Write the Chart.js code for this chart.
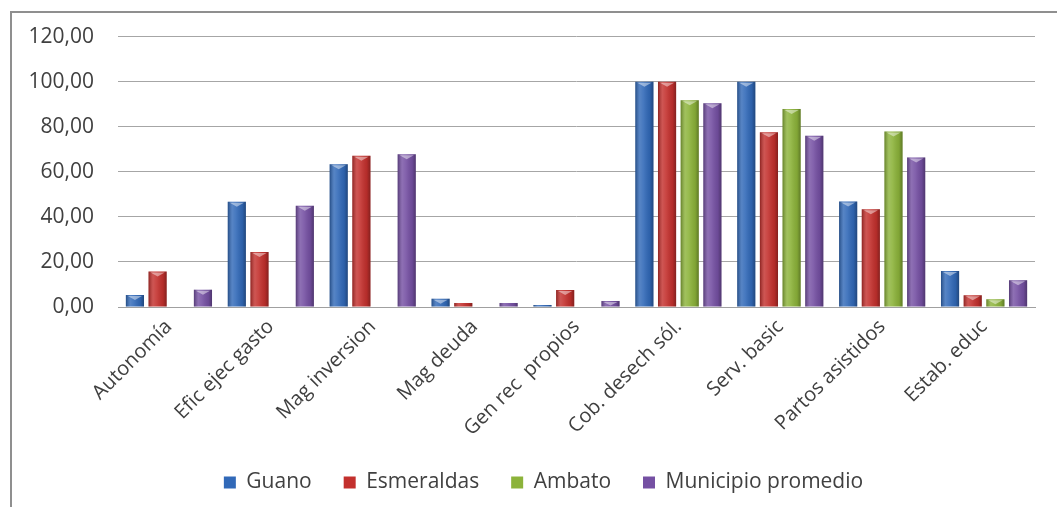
<!DOCTYPE html>
<html>
<head>
<meta charset="utf-8">
<script src="https://cdn.jsdelivr.net/npm/chart.js@4.4.1/dist/chart.umd.min.js"></script>
<style>
  html, body { margin: 0; padding: 0; background: #ffffff; }
  #wrap { width: 1057px; height: 507px; position: relative; }
</style>
</head>
<body>
<div id="wrap"><canvas id="c" width="1057" height="507"></canvas></div>
<script>
// Indicadores municipales por cantón
const categories = ['Autonomía', 'Efic ejec gasto', 'Mag inversion', 'Mag deuda', 'Gen rec  propios',
                    'Cob. desech sól.', 'Serv. basic', 'Partos asistidos', 'Estab. educ'];
const guano      = [5.3, 46.7, 63.4, 3.7, 0.9, 100.0, 100.0, 46.8, 16.0];
const esmeraldas = [15.7, 24.4, 67.1, 1.8, 7.5, 100.0, 77.5, 43.4, 5.2];
const ambato     = [null, null, null, null, null, 91.8, 87.9, 77.9, 3.4];
const municipio  = [7.7, 44.9, 67.8, 1.8, 2.7, 90.4, 76.0, 66.4, 11.9];
const seriesNames = ['Guano', 'Esmeraldas', 'Ambato', 'Municipio promedio'];
const yTicks = [0, 20, 40, 60, 80, 100, 120];

const colors = ['#3169b8', '#c3302d', '#8cb33a', '#7550a3'];
const FONT = '"Open Sans", "DejaVu Sans", sans-serif';

// Panel background and frame
const framePlugin = {
  id: 'frame',
  beforeDraw(chart) {
    const ctx = chart.ctx;
    ctx.save();
    ctx.fillStyle = '#ffffff';
    ctx.fillRect(0, 0, chart.width, chart.height);
    ctx.strokeStyle = '#8f8f8f';
    ctx.lineWidth = 2;
    ctx.strokeRect(11, 12, chart.width + 20, chart.height + 20);
    ctx.restore();
  }
};

// Nudge the legend row a little to the right
const legendShift = {
  id: 'legendShift',
  afterLayout(chart) {
    if (chart.legend) {
      chart.legend.left += 21;
      chart.legend.right += 21;
    }
  }
};

// Cylinder-style shading on top of each bar
const shadePlugin = {
  id: 'shade',
  afterDatasetsDraw(chart) {
    const ctx = chart.ctx;
    ctx.save();
    chart.data.datasets.forEach((ds, di) => {
      const meta = chart.getDatasetMeta(di);
      if (meta.hidden) return;
      meta.data.forEach((el, i) => {
        if (ds.data[i] === null || ds.data[i] === undefined) return;
        const p = el.getProps(['x', 'y', 'base', 'width'], true);
        const left = p.x - p.width / 2;
        const right = p.x + p.width / 2;
        const h = p.base - p.y;
        const g = ctx.createLinearGradient(left, 0, right, 0);
        g.addColorStop(0, 'rgba(0,0,0,0.28)');
        g.addColorStop(0.25, 'rgba(255,255,255,0.18)');
        g.addColorStop(0.45, 'rgba(255,255,255,0.10)');
        g.addColorStop(0.8, 'rgba(0,0,0,0.08)');
        g.addColorStop(1, 'rgba(0,0,0,0.32)');
        ctx.fillStyle = g;
        ctx.fillRect(left, p.y, p.width, h);
        if (h > 4) {
          ctx.fillStyle = 'rgba(255,255,255,0.45)';
          ctx.beginPath();
          ctx.moveTo(left + 2, p.y + 1);
          ctx.lineTo(p.x, p.y + Math.min(5, h - 1));
          ctx.lineTo(right - 2, p.y + 1);
          ctx.closePath();
          ctx.fill();
        }
      });
    });
    ctx.restore();
  }
};

const seriesData = [guano, esmeraldas, ambato, municipio];

new Chart(document.getElementById('c'), {
  type: 'bar',
  data: {
    labels: categories,
    datasets: seriesData.map((d, k) => ({
      label: seriesNames[k],
      data: d,
      backgroundColor: colors[k],
      borderWidth: 0,
      categoryPercentage: 0.89,
      barPercentage: 0.8
    }))
  },
  options: {
    responsive: false,
    animation: false,
    layout: { padding: { left: 10, top: 26, right: 22, bottom: 4 } },
    plugins: {
      legend: {
        position: 'bottom',
        labels: {
          font: { family: FONT, size: 21 },
          color: '#404040',
          boxWidth: 12,
          boxHeight: 12,
          padding: 32
        }
      },
      tooltip: { enabled: false }
    },
    scales: {
      x: {
        grid: { display: false, drawTicks: false },
        border: { display: true, color: '#a0a0a0', width: 1 },
        ticks: {
          font: { family: FONT, size: 20 },
          color: '#404040',
          maxRotation: 45,
          minRotation: 45,
          padding: 8
        },
        afterFit(scale) { scale.height = 133; }
      },
      y: {
        min: 0,
        max: 120,
        afterBuildTicks(scale) { scale.ticks = yTicks.map(v => ({ value: v })); },
        grid: { color: '#a6a6a6', lineWidth: 1, drawTicks: false },
        border: { display: false },
        ticks: {
          font: { family: FONT, size: 21 },
          color: '#404040',
          padding: 24,
          callback: v => Number(v).toFixed(2).replace('.', ',')
        },
        afterFit(scale) { scale.width = 108; }
      }
    }
  },
  plugins: [framePlugin, legendShift, shadePlugin]
});
</script>
</body>
</html>
